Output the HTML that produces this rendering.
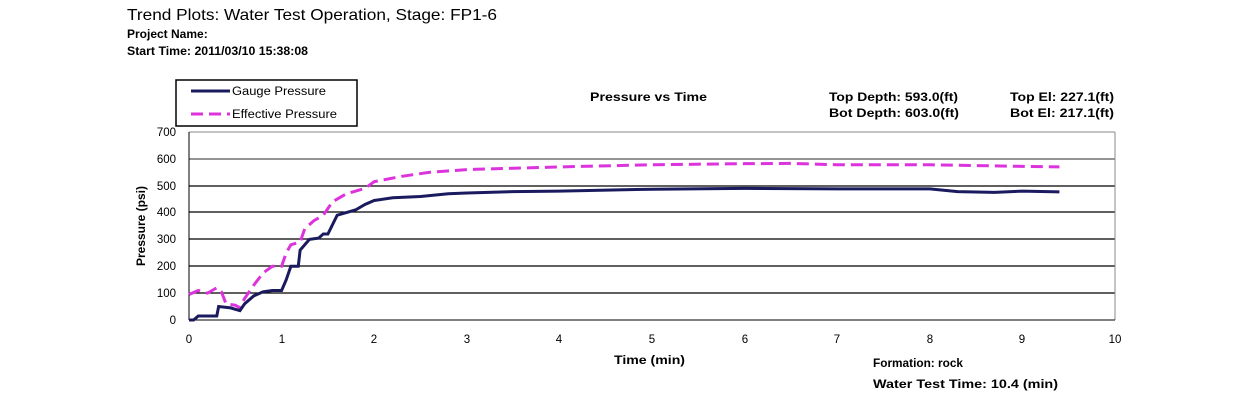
<!DOCTYPE html>
<html><head><style>
body{margin:0;background:#fff;width:1254px;height:400px;overflow:hidden;font-family:"Liberation Sans",Arial,sans-serif}
</style></head><body>
<svg width="1254" height="400" xmlns="http://www.w3.org/2000/svg" font-family="Liberation Sans, Arial, sans-serif">
<text x="127" y="20" font-size="16" textLength="370" lengthAdjust="spacingAndGlyphs">Trend Plots: Water Test Operation, Stage: FP1-6</text>
<text x="127" y="38" font-size="12" font-weight="bold">Project Name:</text>
<text x="127" y="55" font-size="12" font-weight="bold" textLength="181" lengthAdjust="spacingAndGlyphs">Start Time: 2011/03/10 15:38:08</text>
<rect x="176" y="80" width="181" height="46" fill="#fff" stroke="#000" stroke-width="1.5"/>
<line x1="191" y1="91" x2="230" y2="91" stroke="#1a1a5e" stroke-width="3"/>
<text x="232" y="95" font-size="11.5" textLength="94" lengthAdjust="spacingAndGlyphs">Gauge Pressure</text>
<line x1="191" y1="114" x2="230" y2="114" stroke="#dd33dd" stroke-width="3" stroke-dasharray="12,6"/>
<text x="232" y="118" font-size="11.5" textLength="105" lengthAdjust="spacingAndGlyphs">Effective Pressure</text>
<text x="590" y="101" font-size="12" font-weight="bold" textLength="117" lengthAdjust="spacingAndGlyphs">Pressure vs Time</text>
<text x="829" y="101" font-size="12" font-weight="bold" textLength="129" lengthAdjust="spacingAndGlyphs">Top Depth: 593.0(ft)</text>
<text x="829" y="117" font-size="12" font-weight="bold" textLength="130" lengthAdjust="spacingAndGlyphs">Bot Depth: 603.0(ft)</text>
<text x="1010" y="101" font-size="12" font-weight="bold" textLength="104" lengthAdjust="spacingAndGlyphs">Top El: 227.1(ft)</text>
<text x="1010" y="117" font-size="12" font-weight="bold" textLength="104" lengthAdjust="spacingAndGlyphs">Bot El: 217.1(ft)</text>
<g stroke="#000" stroke-width="1.3">
<line x1="189" y1="293" x2="1115" y2="293"/><line x1="189" y1="266" x2="1115" y2="266"/>
<line x1="189" y1="239" x2="1115" y2="239"/><line x1="189" y1="212" x2="1115" y2="212"/>
<line x1="189" y1="186" x2="1115" y2="186"/><line x1="189" y1="159" x2="1115" y2="159" stroke="#555"/>
</g>
<line x1="189" y1="132" x2="1115" y2="132" stroke="#888"/>
<line x1="1115" y1="132" x2="1115" y2="320" stroke="#888"/>
<line x1="189" y1="132" x2="189" y2="320" stroke="#000"/>
<line x1="189" y1="320" x2="1115" y2="320" stroke="#000"/>
<g font-size="11.5" text-anchor="end">
<text x="176" y="324">0</text><text x="176" y="297">100</text><text x="176" y="270">200</text><text x="176" y="243">300</text><text x="176" y="216">400</text><text x="176" y="190">500</text><text x="176" y="163">600</text><text x="176" y="136">700</text>
</g>
<g font-size="11.5" text-anchor="middle">
<text x="189" y="343">0</text><text x="282" y="343">1</text><text x="374" y="343">2</text><text x="467" y="343">3</text><text x="559" y="343">4</text><text x="652" y="343">5</text><text x="745" y="343">6</text><text x="837" y="343">7</text><text x="930" y="343">8</text><text x="1022" y="343">9</text><text x="1115" y="343">10</text>
</g>
<text x="145" y="226" font-size="12" font-weight="bold" text-anchor="middle" transform="rotate(-90 145 226)">Pressure (psi)</text>
<text x="614" y="364" font-size="12" font-weight="bold" textLength="71" lengthAdjust="spacingAndGlyphs">Time (min)</text>
<text x="873" y="367" font-size="12" font-weight="bold" textLength="90" lengthAdjust="spacingAndGlyphs">Formation: rock</text>
<text x="873" y="388" font-size="12" font-weight="bold" textLength="185" lengthAdjust="spacingAndGlyphs">Water Test Time: 10.4 (min)</text>
<g transform="translate(189,320) scale(92.6,-0.2686)">
<polyline fill="none" stroke="#dd33dd" stroke-width="3" vector-effect="non-scaling-stroke" stroke-dasharray="12,6" points="0,95 0.1,110 0.2,100 0.3,120 0.35,105 0.4,60 0.5,55 0.55,45 0.6,80 0.7,130 0.8,175 0.9,200 1.0,200 1.05,250 1.1,280 1.2,290 1.25,340 1.35,370 1.45,390 1.55,440 1.7,470 1.9,490 2.0,515 2.3,535 2.6,550 3,560 4,570 5,578 6,582 6.5,583 7,578 8,578 9,572 9.4,570"/>
<polyline fill="none" stroke="#1a1a5e" stroke-width="3" vector-effect="non-scaling-stroke" points="0,0 0.05,0 0.1,15 0.3,15 0.32,50 0.45,45 0.5,40 0.55,35 0.6,60 0.7,90 0.8,105 0.9,110 1.0,110 1.05,150 1.1,200 1.18,200 1.2,260 1.3,300 1.4,305 1.45,320 1.5,320 1.6,390 1.7,400 1.8,410 1.9,430 2.0,445 2.2,455 2.5,460 2.8,470 3,473 3.5,478 4,480 5,487 6,490 7,488 8,488 8.3,478 8.7,475 9,480 9.4,477"/>
</g>
</svg>
</body></html>
